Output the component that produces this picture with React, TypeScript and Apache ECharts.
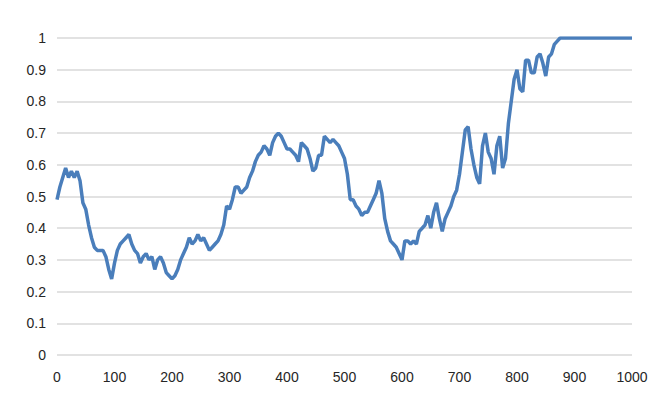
import React, { useEffect, useRef } from "react";
import * as echarts from "echarts";

// sample spacing along the x axis (one value every 5 steps, from 0 to 1000)
const STEP = 5;

const values: number[] = [
  0.49, 0.53, 0.56, 0.59, 0.56, 0.58, 0.56, 0.58, 0.55, 0.48, // 0-45
  0.46, 0.41, 0.37, 0.34, 0.33, 0.33, 0.33, 0.31, 0.27, 0.24, // 50-95
  0.29, 0.33, 0.35, 0.36, 0.37, 0.38, 0.35, 0.33, 0.32, 0.29, // 100-145
  0.31, 0.32, 0.30, 0.31, 0.27, 0.30, 0.31, 0.29, 0.26, 0.25, // 150-195
  0.24, 0.25, 0.27, 0.30, 0.32, 0.34, 0.37, 0.35, 0.36, 0.38, // 200-245
  0.36, 0.37, 0.35, 0.33, 0.34, 0.35, 0.36, 0.38, 0.41, 0.47, // 250-295
  0.46, 0.49, 0.53, 0.53, 0.51, 0.52, 0.53, 0.56, 0.58, 0.61, // 300-345
  0.63, 0.64, 0.66, 0.65, 0.63, 0.67, 0.69, 0.70, 0.69, 0.67, // 350-395
  0.65, 0.65, 0.64, 0.63, 0.61, 0.67, 0.66, 0.65, 0.62, 0.58, // 400-445
  0.59, 0.63, 0.63, 0.69, 0.68, 0.67, 0.68, 0.67, 0.66, 0.64, // 450-495
  0.62, 0.57, 0.49, 0.49, 0.47, 0.46, 0.44, 0.45, 0.45, 0.47, // 500-545
  0.49, 0.51, 0.55, 0.51, 0.43, 0.39, 0.36, 0.35, 0.34, 0.32, // 550-595
  0.30, 0.36, 0.36, 0.35, 0.36, 0.35, 0.39, 0.40, 0.41, 0.44, // 600-645
  0.40, 0.45, 0.48, 0.43, 0.39, 0.43, 0.45, 0.47, 0.50, 0.52, // 650-695
  0.57, 0.64, 0.71, 0.72, 0.65, 0.60, 0.56, 0.54, 0.66, 0.70, // 700-745
  0.64, 0.62, 0.57, 0.66, 0.69, 0.59, 0.62, 0.73, 0.80, 0.87, // 750-795
  0.90, 0.84, 0.83, 0.93, 0.93, 0.89, 0.89, 0.94, 0.95, 0.92, // 800-845
  0.88, 0.94, 0.95, 0.98, 0.99, 1.0, 1.0, 1.0, 1.0, 1.0,      // 850-895
  1.0, 1.0, 1.0, 1.0, 1.0, 1.0, 1.0, 1.0, 1.0, 1.0,           // 900-945
  1.0, 1.0, 1.0, 1.0, 1.0, 1.0, 1.0, 1.0, 1.0, 1.0,           // 950-995
  1.0,                                                        // 1000
];

const xTicks = [0, 100, 200, 300, 400, 500, 600, 700, 800, 900, 1000];
const yTicks = [0, 0.1, 0.2, 0.3, 0.4, 0.5, 0.6, 0.7, 0.8, 0.9, 1];

export default function App() {
  const ref = useRef<HTMLDivElement>(null);

  useEffect(() => {
    if (!ref.current) return;
    const chart = echarts.init(ref.current, undefined, { renderer: "svg" });
    const data = values.map((v, i) => [i * STEP, v]);
    chart.setOption({
      animation: false,
      grid: { left: 49, right: 25, top: 30, bottom: 44, containLabel: false },
      xAxis: {
        type: "value",
        min: xTicks[0],
        max: xTicks[xTicks.length - 1],
        interval: 100,
        axisLine: { show: false },
        axisTick: { show: false },
        splitLine: { show: false },
        axisLabel: {
          margin: 15,
          color: "#262626",
          fontFamily: "Liberation Sans, Arial, sans-serif",
          fontSize: 14,
          formatter: (v: number) => String(v),
        },
      },
      yAxis: {
        type: "value",
        min: yTicks[0],
        max: yTicks[yTicks.length - 1],
        interval: 0.1,
        axisLine: { show: false },
        axisTick: { show: false },
        splitLine: { show: true, lineStyle: { color: "#d9d9d9", width: 1.5 } },
        axisLabel: {
          margin: 11,
          color: "#262626",
          fontFamily: "Liberation Sans, Arial, sans-serif",
          fontSize: 14,
          formatter: (v: number) => String(parseFloat(v.toFixed(1))),
        },
      },
      series: [
        {
          type: "line",
          data,
          showSymbol: false,
          symbol: "none",
          lineStyle: { color: "#4a7ebb", width: 3.5 },
          smooth: false,
        },
      ],
    });
    return () => chart.dispose();
  }, []);

  return <div ref={ref} style={{ width: 649, height: 391 }} />;
}
